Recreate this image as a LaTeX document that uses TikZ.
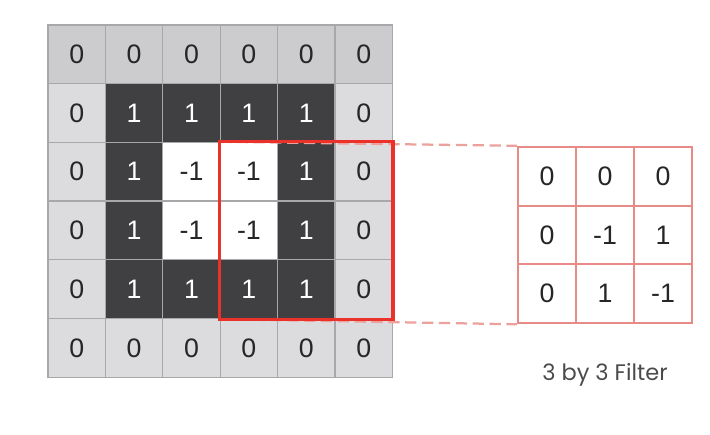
\documentclass[tikz,border=0pt]{standalone}
\usepackage{fontspec}
\setmainfont{Liberation Sans}
\newfontfamily\captionfont{Poppins}
\usepackage{tikz}
\usetikzlibrary{positioning}
\usepackage{xcolor}
\definecolor{zerocell}{RGB}{220,219,221}
\definecolor{edgecell}{RGB}{204,203,206}
\definecolor{onecell}{RGB}{64,64,66}
\definecolor{gridline}{RGB}{168,168,170}
\definecolor{boxred}{RGB}{234,50,42}
\definecolor{filterline}{RGB}{232,138,133}
\definecolor{captiongray}{RGB}{75,75,75}

\begin{document}
\begin{tikzpicture}[x=0.025cm, y=-0.025cm,
  cell/.style={draw=gridline, line width=0.9pt, minimum width=1.435cm,
    minimum height=1.4675cm, inner sep=0pt, font=\fontsize{19}{22}\selectfont},
  val0/.style={fill=zerocell, text=black!85},
  val1/.style={fill=onecell, text=white},
  val-1/.style={fill=white, text=black!85},
  toprow0/.style={fill=edgecell},
  fcell/.style={draw=filterline, line width=1.6pt, fill=white, minimum width=1.45cm,
    minimum height=1.47cm, inner sep=0pt, font=\fontsize{19}{22}\selectfont, text=black!85}]
  \useasboundingbox (0,0) rectangle (710,434);
  % input image
  \foreach \row [count=\i from 0] in
    {{0,0,0,0,0,0},{0,1,1,1,1,0},{0,1,-1,-1,1,0},
     {0,1,-1,-1,1,0},{0,1,1,1,1,0},{0,0,0,0,0,0}} {
    \foreach \v [count=\j from 0] in \row {
      \node[cell, val\v, toprow\i/.try] (c-\i-\j)
        at (76.7+57.4*\j, 54.35+58.7*\i) {\v};
    }
  }
  % filter
  \foreach \row [count=\i from 0] in {{0,0,0},{0,-1,1},{0,1,-1}} {
    \foreach \v [count=\j from 0] in \row {
      \node[fcell] (f-\i-\j) at (547+58*\j, 176.35+58.7*\i) {\v};
    }
  }
  % dashed guides
  \draw[filterline!80, line width=1.6pt, dash pattern=on 8pt off 4pt]
    (c-2-3.north west) -- (f-0-0.north west);
  \draw[filterline!80, line width=1.6pt, dash pattern=on 8pt off 4pt]
    (c-4-3.south west) -- (f-2-0.south west);
  % receptive field
  \draw[boxred, line width=2.2pt] (c-2-3.north west) rectangle (c-4-5.south east);
  % caption
  \node[font=\captionfont\fontsize{16}{19}\selectfont, text=captiongray,
    inner sep=0pt, below=0.98cm of f-2-1] (caption) {3 by 3 Filter};
\end{tikzpicture}
\end{document}
